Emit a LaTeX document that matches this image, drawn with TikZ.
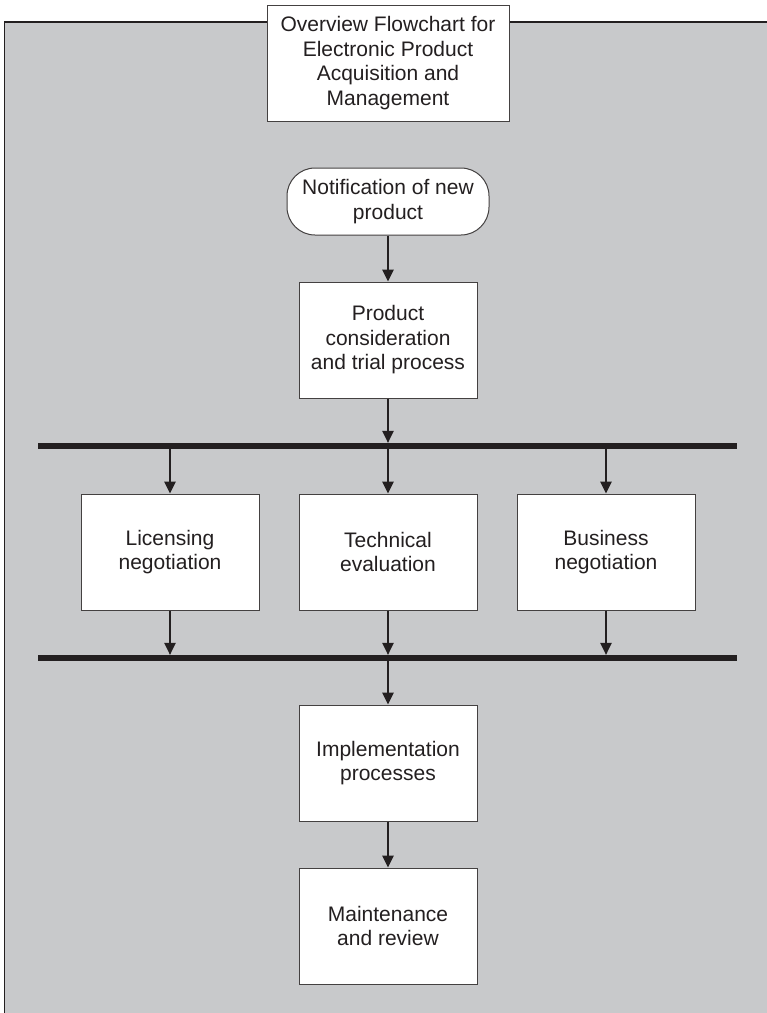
\documentclass[tikz,border=0pt]{standalone}
\usepackage{fontspec}
\setmainfont{Liberation Sans}
\usetikzlibrary{arrows.meta}
\definecolor{panelgray}{RGB}{200,201,203}
\definecolor{ink}{RGB}{35,31,32}

\begin{document}
\begin{tikzpicture}[x=1pt,y=-1pt,
  txt/.style={font=\fontsize{21}{24.5}\selectfont, text=ink, align=center},
  box/.style={txt, draw=ink!85, line width=1pt, fill=white, inner sep=0pt,
              minimum width=178pt, minimum height=116pt},
  terminal/.style={txt, draw=ink!85, line width=1pt, fill=white, inner sep=0pt,
              minimum width=202pt, minimum height=67pt, rounded corners=28pt},
  syncbar/.style={fill=ink, inner sep=0pt, minimum width=699pt, minimum height=6pt},
  arr/.style={draw=ink, line width=1.1pt, -{Triangle[length=12pt,width=11.5pt]}}
]
\useasboundingbox (0,0) rectangle (767,1013);

% gray panel behind the flowchart
\fill[panelgray] (4.7,22) rectangle (800,1040);
\draw[ink, line width=1.3pt] (4.7,1040) -- (4.7,22) -- (800,22);

% title
\node[box, minimum width=242pt] (title) at (388,63)
  {Overview Flowchart for\\Electronic Product\\Acquisition and\\Management};

% main flow
\node[terminal] (notif) at (388,201.5) {Notification of new\\product};
\node[box] (prod) at (388,340) {Product\\consideration\\and trial process};
\node[syncbar] (bar1) at (387.5,446) {};
\node[box] (lic)  at (170,552) {Licensing\\negotiation};
\node[box] (tech) at (388,552) {Technical\\evaluation};
\node[box] (bus)  at (606,552) {Business\\negotiation};
\node[syncbar] (bar2) at (387.5,658) {};
\node[box] (impl)  at (388,763) {Implementation\\processes};
\node[box] (maint) at (388,926) {Maintenance\\and review};

% connectors
\draw[arr] (notif.south) -- (prod.north);
\draw[arr] (prod.south) -- (prod.south |- bar1.north);
\draw[arr] (bar1.south -| lic.north)  -- (lic.north);
\draw[arr] (bar1.south -| tech.north) -- (tech.north);
\draw[arr] (bar1.south -| bus.north)  -- (bus.north);
\draw[arr] (lic.south)  -- (lic.south |- bar2.north);
\draw[arr] (tech.south) -- (tech.south |- bar2.north);
\draw[arr] (bus.south)  -- (bus.south |- bar2.north);
\draw[arr] (bar2.south -| impl.north) -- (impl.north);
\draw[arr] (impl.south) -- (maint.north);
\end{tikzpicture}
\end{document}
